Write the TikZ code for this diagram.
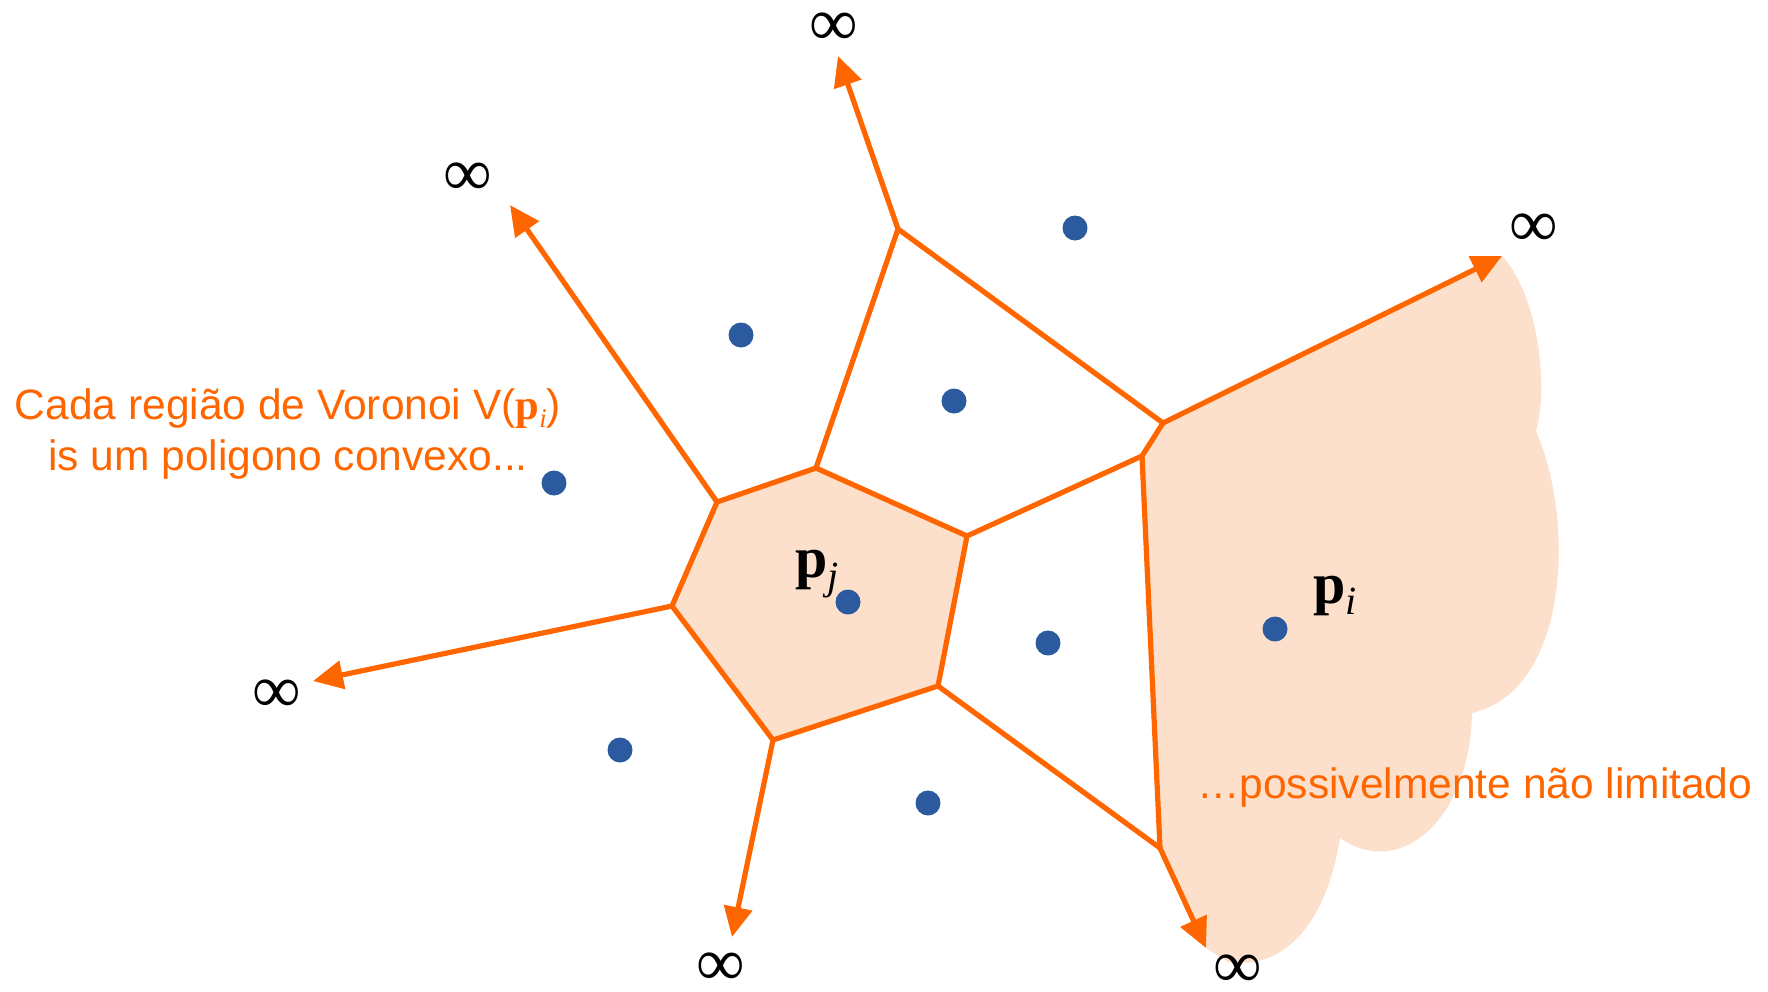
\documentclass[tikz,border=0pt]{standalone}
\usepackage{fontspec}
\setmainfont{Liberation Serif}
\newfontfamily\arialf{Liberation Sans}
\usetikzlibrary{arrows.meta}
\definecolor{vorange}{HTML}{FF6600}
\definecolor{vfill}{HTML}{FDE0CB}
\definecolor{vblue}{HTML}{2B5B9E}
\tikzset{
  edge/.style={draw=vorange, line width=5.2pt, line join=miter},
  ray/.style={edge, -{Triangle[length=30pt,width=28pt]}},
  site/.style={circle, fill=vblue, minimum size=25pt, inner sep=0pt},
  inf/.style={inner sep=0pt, font=\fontsize{68}{68}\selectfont},
  lbl/.style={inner sep=0pt, text=vorange, font=\arialf\fontsize{42.5}{50}\selectfont},
  plbl/.style={inner sep=0pt, anchor=base west, font=\fontsize{58}{58}\selectfont}
}
\begin{document}
\begin{tikzpicture}[x=1pt,y=-1pt]
\useasboundingbox (0,0) rectangle (1768,991);
% vertices
\coordinate (A) at (717,502);
\coordinate (B) at (816,468);
\coordinate (C) at (967,536);
\coordinate (D) at (938,686);
\coordinate (E) at (773,740);
\coordinate (F) at (672,606);
\coordinate (G) at (898,229);
\coordinate (H) at (1163,423);
\coordinate (I) at (1142,456);
\coordinate (J) at (1160,848);
% ray ends
\coordinate (tA) at (510,205);
\coordinate (tG) at (838,56);
\coordinate (tH) at (1502,256);
\coordinate (tF) at (313,681);
\coordinate (tE) at (732,937);
\coordinate (tJ) at (1206,948);
% fills
\fill[vfill] (A) -- (B) -- (C) -- (D) -- (E) -- (F) -- cycle;
\fill[vfill] (H) -- (tH) .. controls (1535,290) and (1550,380) .. (1536,431)
  .. controls (1575,520) and (1570,690) .. (1472,713)
  .. controls (1470,820) and (1400,880) .. (1340,838)
  .. controls (1325,930) and (1280,970) .. (1228,962)
  -- (tJ) -- (J) -- (I) -- cycle;
% edges
\draw[edge] (A) -- (B) -- (C) -- (D) -- (E) -- (F) -- cycle;
\draw[edge] (B) -- (G) -- (H) -- (I) -- (C);
\draw[edge] (I) -- (J) -- (D);
% rays
\draw[ray] (A) -- (tA);
\draw[ray] (G) -- (tG);
\draw[ray] (H) -- (tH);
\draw[ray] (F) -- (tF);
\draw[ray] (E) -- (tE);
\draw[ray] (J) -- (tJ);
% sites
\node[site] (s1) at (1075,228) {};
\node[site] (s2) at (741,335) {};
\node[site] (s3) at (954,401) {};
\node[site] (s4) at (554,483) {};
\node[site] (s5) at (848,602) {};
\node[site] (s6) at (1048,643) {};
\node[site] (s7) at (1275,629) {};
\node[site] (s8) at (620,750) {};
\node[site] (s9) at (928,803) {};
% infinity
\node[inf] (i1) at (834,29) {∞};
\node[inf] (i2) at (468,179) {∞};
\node[inf] (i3) at (1534,230) {∞};
\node[inf] (i4) at (277,696) {∞};
\node[inf] (i5) at (721,969) {∞};
\node[inf] (i6) at (1238,971) {∞};
% labels
\node[plbl] (pj) at (795,577) {\textbf{p}\raisebox{-0.22em}{\fontsize{40}{40}\selectfont\itshape j}};
\node[plbl] (pi) at (1313,603) {\textbf{p}\raisebox{-0.2em}{\fontsize{40}{40}\selectfont\itshape i}};
\node[lbl, anchor=base] (l1) at (288,419) {Cada região de Voronoi V({\rmfamily\bfseries p}\raisebox{-0.2em}{\rmfamily\itshape\fontsize{27}{27}\selectfont i})};
\node[lbl, anchor=base] (l2) at (288,470) {is um poligono convexo...};
\node[lbl, anchor=base west] (l3) at (1197,798) {…possivelmente não limitado};
\end{tikzpicture}
\end{document}
